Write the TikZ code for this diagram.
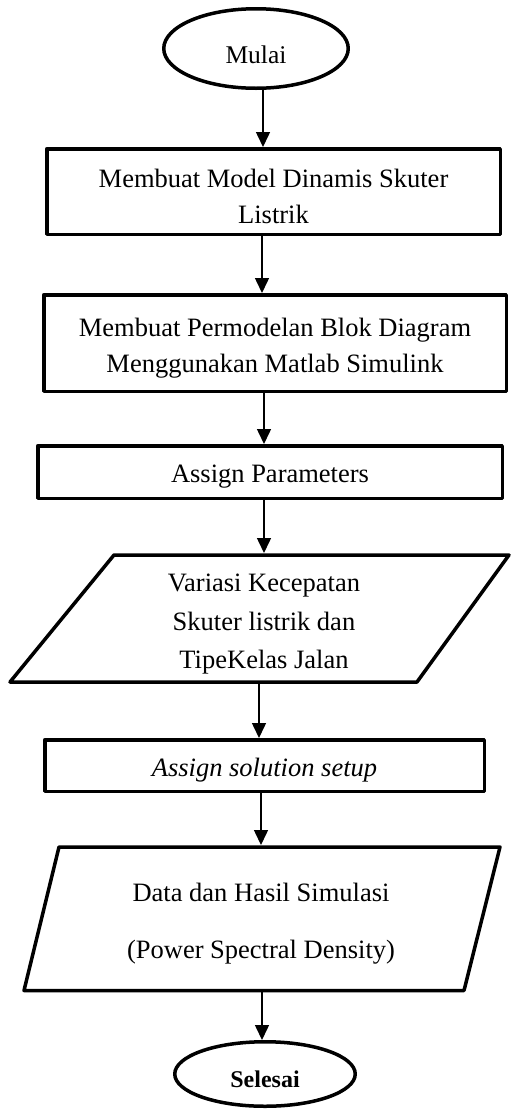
\documentclass[tikz,border=0pt]{standalone}
\usepackage{fontspec}
\setmainfont{Liberation Serif}
\usetikzlibrary{shapes.geometric,arrows.meta}

\begin{document}
\begin{tikzpicture}[x=1pt,y=-1pt,
  shp/.style={draw=black,line width=3.5pt,line join=round,fill=white},
  txt/.style={font=\fontsize{26.5}{36}\selectfont,align=center,inner sep=0pt},
  proc/.style={shp,rectangle,inner sep=0pt},
  term/.style={shp,ellipse,inner sep=0pt},
  iobox/.style={rectangle,inner sep=0pt,outer sep=0pt},
  lbl/.style={txt,yshift=-5pt},
  arr/.style={line width=1.5pt,-{Triangle[length=15pt,width=14pt]}}]

\useasboundingbox[fill=white] (0,0) rectangle (512,1112);

% start / end terminals
\node[term,minimum width=184.5pt,minimum height=79.5pt] (m) at (256,48.5) {};
\node[lbl,font=\fontsize{25.5}{30}\selectfont,yshift=-1pt] (mt) at (m.center) {Mulai};
\node[term,minimum width=180.5pt,minimum height=64.5pt] (s) at (265,1074) {};
\node[lbl,font=\fontsize{24}{28}\selectfont\bfseries] (st) at (s.center) {Selesai};

% process boxes
\node[proc,minimum width=453.5pt,minimum height=85.5pt] (b1) at (273.5,191.5) {};
\node[lbl] (b1t) at (b1.center) {Membuat Model Dinamis Skuter\\Listrik};
\node[proc,minimum width=462.5pt,minimum height=96.5pt] (b2) at (275,343) {};
\node[lbl] (b2t) at (b2.center) {Membuat Permodelan Blok Diagram\\Menggunakan Matlab Simulink};
\node[proc,minimum width=464.5pt,minimum height=52.5pt] (b3) at (270,472) {};
\node[lbl] (b3t) at (b3.center) {Assign Parameters};
\node[proc,minimum width=439.5pt,minimum height=51.5pt] (b4) at (264.5,765.5) {};
\node[lbl] (b4t) at (b4.center) {\itshape Assign solution setup};

% input/output parallelograms
\draw[shp] (114,555) -- (509,555) -- (417,682) -- (10,682) -- cycle;
\node[iobox,minimum width=300pt,minimum height=131pt] (p1) at (264,618.5) {};
\node[lbl,yshift=-1pt] (p1t) at (p1.center)
  {Variasi Kecepatan\\[2.5pt]Skuter listrik dan\\[2.5pt]TipeKelas Jalan};
\draw[shp] (59,847) -- (500,847) -- (464,990.5) -- (24,990.5) -- cycle;
\node[iobox,minimum width=300pt,minimum height=147pt] (p2) at (261,918.5) {};
\node[lbl] (p2t) at (p2.center)
  {Data dan Hasil Simulasi\\[21pt](Power Spectral Density)};

% flow columns
\coordinate (c1) at (263,0);
\coordinate (c2) at (262,0);
\coordinate (c3) at (264,0);
\coordinate (c4) at (259,0);
\coordinate (c5) at (261,0);

% connectors
\draw[arr] (m.south -| c1) -- (b1.north -| c1);
\draw[arr] (b1.south -| c2) -- (b2.north -| c2);
\draw[arr] (b2.south -| c3) -- (b3.north -| c3);
\draw[arr] (b3.south -| c3) -- (p1.north -| c3);
\draw[arr] (p1.south -| c4) -- (b4.north -| c4);
\draw[arr] (b4.south -| c5) -- (p2.north -| c5);
\draw[arr] (p2.south -| c2) -- (s.north -| c2);
\end{tikzpicture}
\end{document}
